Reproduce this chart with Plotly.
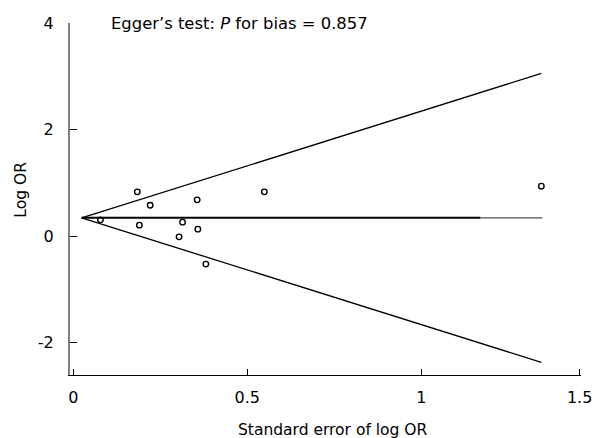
import plotly.graph_objects as go

# Study data: standard error of log OR vs log OR
SE = [0.078, 0.184, 0.221, 0.190, 0.314, 0.356, 0.358, 0.304, 0.381, 0.549, 1.345]
LOG_OR = [0.306, 0.831, 0.581, 0.206, 0.263, 0.681, 0.131, -0.013, -0.525, 0.831, 0.938]

# pooled estimate line (black part, grey extension)
POOLED = 0.343
POOLED_BLACK_SE = [0.024, 1.17]
POOLED_GREY_SE = [1.17, 1.348]

# pseudo 95% confidence limits
CI_SE = [0.024, 1.345]
CI_UPPER = [0.343, 3.054]
CI_LOWER = [0.343, -2.368]

X_TICK_VALS = [0, 0.5, 1, 1.455]
X_TICK_LABELS = ["0", "0.5", "1", "1.5"]
Y_TICK_VALS = [-2, 0, 2, 4]
Y_TICK_LABELS = ["-2", "0", "2", "4"]

FONT = "DejaVu Sans"

fig = go.Figure()
fig.add_trace(go.Scatter(x=CI_SE, y=CI_UPPER, mode="lines",
                         line=dict(color="black", width=1.3), hoverinfo="skip"))
fig.add_trace(go.Scatter(x=CI_SE, y=CI_LOWER, mode="lines",
                         line=dict(color="black", width=1.3), hoverinfo="skip"))
fig.add_trace(go.Scatter(x=POOLED_GREY_SE, y=[POOLED, POOLED], mode="lines",
                         line=dict(color="#808080", width=1.6), hoverinfo="skip"))
fig.add_trace(go.Scatter(x=POOLED_BLACK_SE, y=[POOLED, POOLED], mode="lines",
                         line=dict(color="black", width=2), hoverinfo="skip"))
fig.add_trace(go.Scatter(x=SE, y=LOG_OR, mode="markers",
                         marker=dict(symbol="circle-open", size=5.5,
                                     color="black", line=dict(width=1.4))))

fig.update_layout(
    width=604, height=438,
    margin=dict(l=70, r=16, t=23, b=63),
    paper_bgcolor="white", plot_bgcolor="white",
    showlegend=False,
    font=dict(family=FONT, size=16, color="black"),
    xaxis=dict(range=[-0.0094, 1.459], showgrid=False, zeroline=False,
               showline=True, linecolor="black", linewidth=1.3,
               ticks="inside", ticklen=6, tickcolor="black", tickwidth=1.3,
               tickvals=X_TICK_VALS, ticktext=X_TICK_LABELS,
               ticklabelstandoff=8, tickfont=dict(size=16)),
    yaxis=dict(range=[-2.606, 4.0], showgrid=False, zeroline=False,
               showline=True, linecolor="#808080", linewidth=2,
               ticks="inside", ticklen=7, tickcolor="black", tickwidth=1.3,
               tickvals=Y_TICK_VALS, ticktext=Y_TICK_LABELS,
               ticklabelstandoff=11, tickfont=dict(size=16)),
    annotations=[
        dict(text="Egger\u2019s test: <i>P</i> for bias = 0.857", xref="paper", yref="paper",
             x=(110 - 70) / 518, y=1 - (24 - 23) / 352, xanchor="left", yanchor="middle",
             showarrow=False, font=dict(size=16.4)),
        dict(text="Standard error of log OR", xref="paper", yref="paper",
             x=(337 - 70) / 518, y=-(430 - 375) / 352, xanchor="center", yanchor="middle",
             showarrow=False, font=dict(size=15.5)),
        dict(text="Log OR", xref="paper", yref="paper", textangle=-90,
             x=-(70 - 20) / 518, y=1 - (190 - 23) / 352, xanchor="center", yanchor="middle",
             showarrow=False, font=dict(size=15.5)),
    ],
)

fig.write_html("out.html", config={"displayModeBar": False},
               post_script="document.body.style.margin='0';document.body.style.overflow='hidden';")
